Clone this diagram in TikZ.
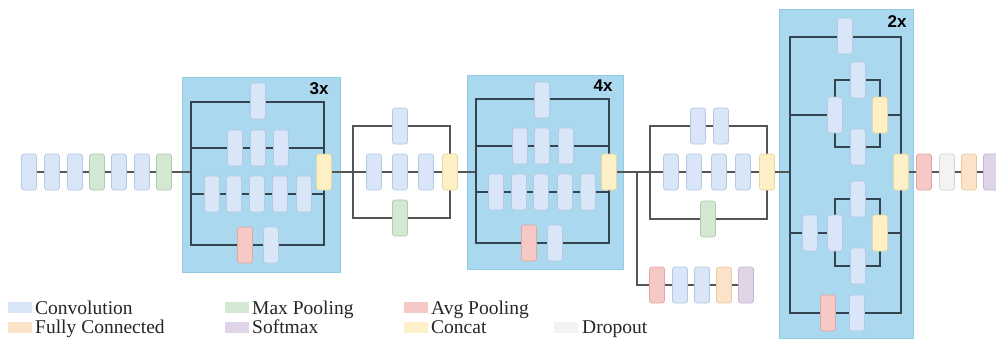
\documentclass[tikz,border=0pt]{standalone}
\usepackage{fontspec}
\setmainfont{Liberation Serif}
\newfontfamily\labfont{Liberation Sans}
\pgfdeclarelayer{bg}
\pgfdeclarelayer{lines}
\pgfsetlayers{bg,lines,main}
\definecolor{cConv}{HTML}{D8E6F8}
\definecolor{cConvD}{HTML}{B5C9E4}
\definecolor{cMax}{HTML}{D3E7D2}
\definecolor{cMaxD}{HTML}{AFCDAE}
\definecolor{cAvg}{HTML}{F6C8C6}
\definecolor{cAvgD}{HTML}{E0A9A6}
\definecolor{cCat}{HTML}{FDF0C6}
\definecolor{cCatD}{HTML}{E8D69E}
\definecolor{cFC}{HTML}{FCE3C8}
\definecolor{cFCD}{HTML}{E8C8A4}
\definecolor{cSoft}{HTML}{E0D4E8}
\definecolor{cSoftD}{HTML}{C5B5D2}
\definecolor{cDrop}{HTML}{F3F3F3}
\definecolor{cDropD}{HTML}{D6D6D6}
\definecolor{cBox}{HTML}{AAD8EE}
\definecolor{cBoxD}{HTML}{93CBE3}
\definecolor{cLine}{HTML}{34454F}
\definecolor{cLineO}{HTML}{555555}
\tikzset{
  blk/.style={rectangle, rounded corners=2.5pt, minimum width=15pt, minimum height=36pt, inner sep=0pt, line width=0.7pt},
  tconv/.style={blk, fill=cConv, draw=cConvD},
  tmax/.style={blk, fill=cMax, draw=cMaxD},
  tavg/.style={blk, fill=cAvg, draw=cAvgD},
  tcat/.style={blk, fill=cCat, draw=cCatD},
  tfc/.style={blk, fill=cFC, draw=cFCD},
  tsoft/.style={blk, fill=cSoft, draw=cSoftD},
  tdrop/.style={blk, fill=cDrop, draw=cDropD},
  modbox/.style={fill=cBox, draw=cBoxD, line width=0.8pt},
  wire/.style={draw=cLine, line width=1.4pt},
  wireo/.style={draw=cLineO, line width=1.4pt},
  rep/.style={font=\labfont\bfseries\fontsize{17}{17}\selectfont, text=black, inner sep=0pt},
  swatch/.style={rectangle, minimum width=24pt, minimum height=11pt, inner sep=0pt, draw=none},
  legtxt/.style={font=\fontsize{19.5}{19.5}\selectfont, anchor=base west, inner sep=0pt, text=black!85}
}
\begin{document}
\begin{tikzpicture}[x=1pt,y=-1pt]
\useasboundingbox (0,0) rectangle (996,340);
% ---------------- module boxes
\begin{pgfonlayer}{bg}
\fill[white] (0,0) rectangle (996,340);
\draw[modbox] (182,77) rectangle (340,272);
\draw[modbox] (467,75) rectangle (623,269);
\draw[modbox] (779,9) rectangle (913,338);
\end{pgfonlayer}
\node[rep] (l3x) at (319,89) {3x};
\node[rep] (l4x) at (603,86) {4x};
\node[rep] (l2x) at (897,22) {2x};
% ---------------- stem
\node[tconv] (s1) at (29,172) {};
\node[tconv] (s2) at (52,172) {};
\node[tconv] (s3) at (75,172) {};
\node[tmax]  (s4) at (97,172) {};
\node[tconv] (s5) at (119,172) {};
\node[tconv] (s6) at (142,172) {};
\node[tmax]  (s7) at (164,172) {};
% ---------------- module A (3x)
\coordinate (A-tl) at (191,102);
\coordinate (A-br) at (324,245);
\coordinate (A-l2) at (191,148);
\coordinate (A-r2) at (324,148);
\coordinate (A-l3) at (191,194);
\coordinate (A-r3) at (324,194);
\coordinate (A-lm) at (191,172);
\node[tconv] (a11) at (258,101) {};
\node[tconv] (a21) at (235,148) {};
\node[tconv] (a22) at (258,148) {};
\node[tconv] (a23) at (281,148) {};
\node[tconv] (a31) at (212,194) {};
\node[tconv] (a32) at (234,194) {};
\node[tconv] (a33) at (257,194) {};
\node[tconv] (a34) at (280,194) {};
\node[tconv] (a35) at (304,194) {};
\node[tavg]  (a41) at (245,245) {};
\node[tconv] (a42) at (271,245) {};
\node[tcat]  (acat) at (324,172) {};
% ---------------- reduction A
\coordinate (R-tl) at (353,126);
\coordinate (R-br) at (450,218);
\coordinate (R-lm) at (353,172);
\node[tconv] (r11) at (400,126) {};
\node[tconv] (r21) at (374,172) {};
\node[tconv] (r22) at (400,172) {};
\node[tconv] (r23) at (426,172) {};
\node[tmax]  (r31) at (400,218) {};
\node[tcat]  (rcat) at (450,172) {};
% ---------------- module B (4x)
\coordinate (B-tl) at (476,99);
\coordinate (B-br) at (609,243);
\coordinate (B-l2) at (476,146);
\coordinate (B-r2) at (609,146);
\coordinate (B-l3) at (476,192);
\coordinate (B-r3) at (609,192);
\coordinate (B-lm) at (476,172);
\node[tconv] (b11) at (542,100) {};
\node[tconv] (b21) at (520,146) {};
\node[tconv] (b22) at (542,146) {};
\node[tconv] (b23) at (566,146) {};
\node[tconv] (b31) at (496,192) {};
\node[tconv] (b32) at (519,192) {};
\node[tconv] (b33) at (541,192) {};
\node[tconv] (b34) at (565,192) {};
\node[tconv] (b35) at (588,192) {};
\node[tavg]  (b41) at (529,243) {};
\node[tconv] (b42) at (555,243) {};
\node[tcat]  (bcat) at (609,172) {};
% ---------------- auxiliary classifier
\coordinate (aux) at (637,172);
\node[tavg]  (x1) at (657,285) {};
\node[tconv] (x2) at (680,285) {};
\node[tconv] (x3) at (702,285) {};
\node[tfc]   (x4) at (724,285) {};
\node[tsoft] (x5) at (746,285) {};
% ---------------- reduction B
\coordinate (Q-tl) at (650,126);
\coordinate (Q-br) at (767,219);
\coordinate (Q-lm) at (650,172);
\node[tconv] (q11) at (698,126) {};
\node[tconv] (q12) at (721,126) {};
\node[tconv] (q21) at (671,172) {};
\node[tconv] (q22) at (694,172) {};
\node[tconv] (q23) at (719,172) {};
\node[tconv] (q24) at (743,172) {};
\node[tmax]  (q31) at (708,219) {};
\node[tcat]  (qcat) at (767,172) {};
% ---------------- module C (2x)
\coordinate (C-tl) at (790,37);
\coordinate (C-br) at (901,313);
\coordinate (C-lm) at (790,172);
\coordinate (C-l2) at (790,115);
\coordinate (C-r2) at (901,115);
\coordinate (C-l3) at (790,233);
\coordinate (C-r3) at (901,233);
\coordinate (U-tl) at (835,80);
\coordinate (U-br) at (880,147);
\coordinate (L-tl) at (835,199);
\coordinate (L-br) at (880,266);
\node[tconv] (c11) at (845,36) {};
\node[tconv] (u1) at (835,115) {};
\node[tconv] (u2) at (858,80) {};
\node[tconv] (u3) at (858,147) {};
\node[tcat]  (ucat) at (880,115) {};
\node[tconv] (w0) at (810,233) {};
\node[tconv] (w1) at (835,233) {};
\node[tconv] (w2) at (858,199) {};
\node[tconv] (w3) at (858,266) {};
\node[tcat]  (wcat) at (880,233) {};
\node[tavg]  (c41) at (828,313) {};
\node[tconv] (c42) at (857,313) {};
\node[tcat]  (ccat) at (901,172) {};
% ---------------- head
\node[tavg]  (h1) at (924,172) {};
\node[tdrop] (h2) at (947,172) {};
\node[tfc]   (h3) at (969,172) {};
\node[tsoft] (h4) at (991,172) {};
% ---------------- wires
\begin{pgfonlayer}{lines}
\draw[wireo] (s1) -- (s2) -- (s3) -- (s4) -- (s5) -- (s6) -- (s7) -- (A-lm);
% module A
\draw[wire] (A-tl) rectangle (A-br);
\draw[wire] (A-l2) -- (a21) -- (a22) -- (a23) -- (A-r2);
\draw[wire] (A-l3) -- (a31) -- (a32) -- (a33) -- (a34) -- (a35) -- (A-r3);
\draw[wireo] (acat) -- (R-lm);
% reduction A
\draw[wireo] (R-tl) rectangle (R-br);
\draw[wireo] (R-lm) -- (r21) -- (r22) -- (r23) -- (rcat);
\draw[wireo] (rcat) -- (B-lm);
% module B
\draw[wire] (B-tl) rectangle (B-br);
\draw[wire] (B-l2) -- (b21) -- (b22) -- (b23) -- (B-r2);
\draw[wire] (B-l3) -- (b31) -- (b32) -- (b33) -- (b34) -- (b35) -- (B-r3);
\draw[wireo] (bcat) -- (aux) -- (Q-lm);
% auxiliary
\draw[wireo] (aux) |- (x1);
\draw[wireo] (x1) -- (x2) -- (x3) -- (x4) -- (x5);
% reduction B
\draw[wireo] (Q-tl) rectangle (Q-br);
\draw[wireo] (Q-lm) -- (q21) -- (q22) -- (q23) -- (q24) -- (qcat);
\draw[wireo] (qcat) -- (C-lm);
% module C
\draw[wire] (C-tl) rectangle (C-br);
\draw[wire] (C-l2) -- (u1);
\draw[wire] (U-tl) rectangle (U-br);
\draw[wire] (ucat) -- (C-r2);
\draw[wire] (C-l3) -- (w0) -- (w1);
\draw[wire] (L-tl) rectangle (L-br);
\draw[wire] (wcat) -- (C-r3);
% head
\draw[wireo] (ccat) -- (h1) -- (h2) -- (h3) -- (h4);
\end{pgfonlayer}
% ---------------- legend
\node[swatch, fill=cConv] (k1) at (19.5,307) {};
\node[legtxt] (t1) at (35,314) {Convolution};
\node[swatch, fill=cFC] (k2) at (19.5,327.5) {};
\node[legtxt] (t2) at (35,333) {Fully Connected};
\node[swatch, fill=cMax] (k3) at (237,307) {};
\node[legtxt] (t3) at (252,314) {Max Pooling};
\node[swatch, fill=cSoft] (k4) at (237,327.5) {};
\node[legtxt] (t4) at (252,333) {Softmax};
\node[swatch, fill=cAvg] (k5) at (416,307) {};
\node[legtxt] (t5) at (431,314) {Avg Pooling};
\node[swatch, fill=cCat] (k6) at (416,327.5) {};
\node[legtxt] (t6) at (431,333) {Concat};
\node[swatch, fill=cDrop] (k7) at (566,327.5) {};
\node[legtxt] (t7) at (582,333) {Dropout};
\end{tikzpicture}
\end{document}
